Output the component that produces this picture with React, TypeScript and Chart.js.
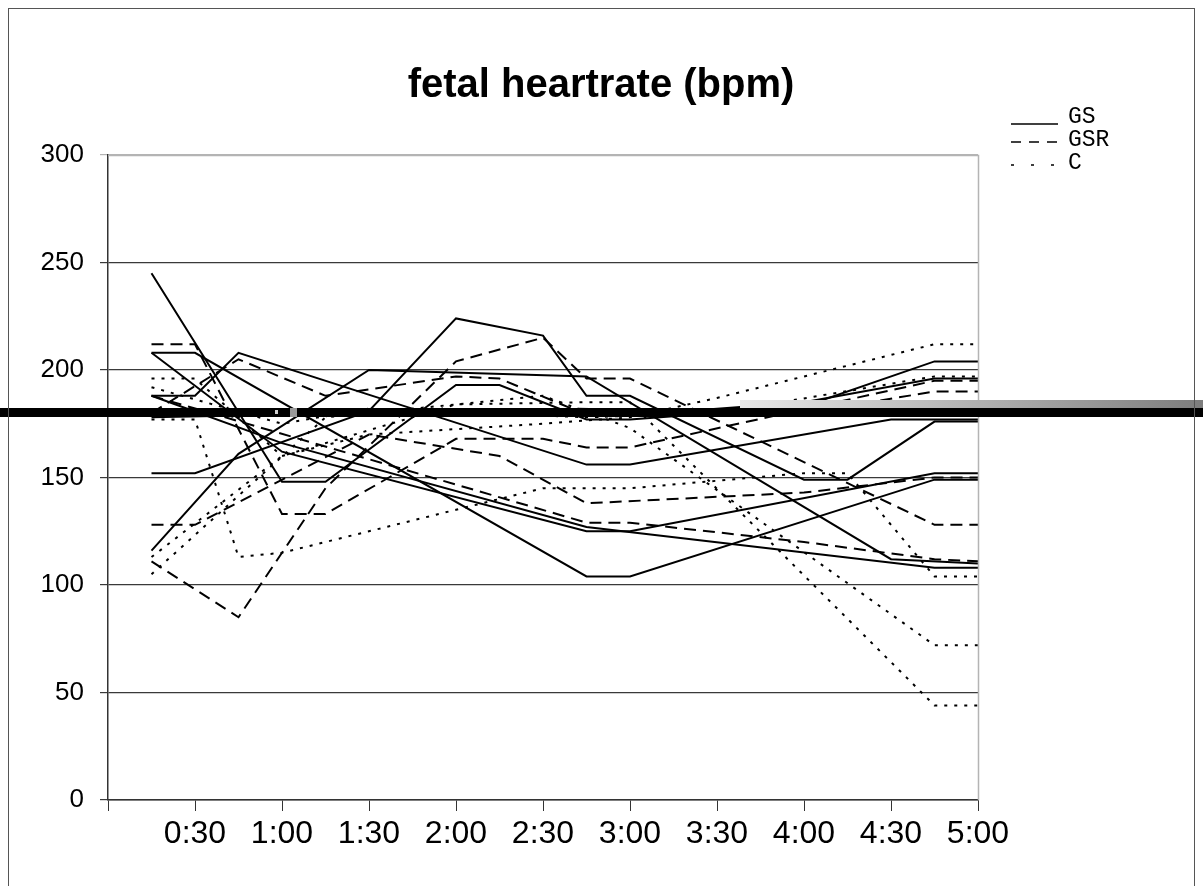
import React, { useEffect, useRef } from 'react';
import { Chart, registerables } from 'chart.js';

Chart.register(...registerables);

// time in minutes, value in bpm
const tickLabels = ['0:30', '1:00', '1:30', '2:00', '2:30', '3:00', '3:30', '4:00', '4:30', '5:00'];
const yTicks = [0, 50, 100, 150, 200, 250, 300];

// GS (solid)
const gs1 = [[15, 208], [30, 208], [165, 104], [180, 104], [285, 149], [300, 149]];
const gs2 = [[15, 152], [30, 152], [90, 181], [120, 224], [150, 216], [165, 188], [180, 188], [240, 149], [255, 149], [285, 176], [300, 176]];
const gs3 = [[15, 188], [30, 188], [45, 208], [165, 156], [180, 156], [270, 177], [300, 177]];
const gs4 = [[15, 116], [45, 161], [90, 200], [165, 197], [270, 112], [300, 110]];
const gs5 = [[15, 245], [60, 148], [75, 148], [120, 193], [135, 193], [165, 177], [180, 177], [240, 183], [285, 204], [300, 204]];
const gs6 = [[15, 208], [60, 162], [165, 125], [180, 125], [285, 152], [300, 152]];
const gs7 = [[15, 188], [60, 166], [165, 127], [285, 108], [300, 108]];
const gs8 = [[15, 178], [90, 180], [180, 179], [240, 185], [285, 196], [300, 196]];

// GSR (dashed)
const gsr1 = [[15, 212], [30, 212], [60, 133], [75, 133], [120, 168], [150, 168], [165, 164], [180, 164], [285, 195], [300, 195]];
const gsr2 = [[15, 111], [45, 85], [75, 145], [120, 204], [150, 215], [165, 196], [180, 196], [285, 128], [300, 128]];
const gsr3 = [[15, 128], [30, 128], [90, 170], [135, 160], [165, 138], [240, 143], [285, 150], [300, 150]];
const gsr4 = [[15, 188], [165, 129], [180, 129], [240, 120], [285, 112], [300, 111]];
const gsr5 = [[15, 180], [45, 205], [75, 188], [120, 197], [135, 196], [160, 182], [240, 180], [285, 190], [300, 190]];

// C (dotted)
const c1 = [[15, 196], [30, 196], [60, 160], [90, 170], [150, 175], [180, 178], [210, 187], [285, 212], [300, 212]];
const c2 = [[15, 177], [30, 177], [45, 113], [60, 115], [120, 135], [150, 145], [180, 145], [240, 152], [255, 152], [285, 104], [300, 104]];
const c3 = [[15, 105], [75, 178], [120, 184], [150, 188], [180, 173], [285, 72], [300, 72]];
const c4 = [[15, 113], [60, 160], [120, 184], [165, 185], [180, 185], [285, 44], [300, 44]];
const c5 = [[15, 192], [60, 175], [90, 182], [165, 178], [210, 180], [285, 197], [300, 197]];

const groupGS = [gs1, gs2, gs3, gs4, gs5, gs6, gs7, gs8];
const groupGSR = [gsr1, gsr2, gsr3, gsr4, gsr5];
const groupC = [c1, c2, c3, c4, c5];

const legendItems = [
  { label: 'GS', dash: [] as number[] },
  { label: 'GSR', dash: [10, 8] },
  { label: 'C', dash: [3, 17] },
];

const barValue = 180;
const DASH = [12, 7];
const DOT = [3, 7];

const FONT = "'Liberation Sans', Arial, sans-serif";

function makeSets(group: number[][][], label: string, dash: number[]) {
  return group.map((pts) => ({
    label,
    data: pts.map(([x, y]) => ({ x, y })),
    borderColor: '#000',
    backgroundColor: '#000',
    borderWidth: 2,
    borderDash: dash,
    pointRadius: 0,
    tension: 0,
    fill: false,
  }));
}

const overlay = {
  id: 'overlay',
  afterDatasetsDraw(chart: any) {
    const { ctx, chartArea, scales } = chart;
    const W = chart.width;
    const y = scales.y.getPixelForValue(barValue);
    ctx.save();
    // plot area top/right border
    ctx.strokeStyle = '#b4b4b4';
    ctx.lineWidth = 1.5;
    ctx.beginPath();
    ctx.moveTo(chartArea.left, chartArea.top + 0.5);
    ctx.lineTo(chartArea.right + 0.5, chartArea.top + 0.5);
    ctx.lineTo(chartArea.right + 0.5, chartArea.bottom);
    ctx.stroke();
    // thick artifact bar
    ctx.fillStyle = '#000';
    ctx.fillRect(0, y - 5, W, 9);
    const g = ctx.createLinearGradient(740, 0, W, 0);
    g.addColorStop(0, 'rgba(232,232,232,1)');
    g.addColorStop(1, 'rgba(125,125,125,1)');
    ctx.fillStyle = g;
    ctx.fillRect(740, y - 13, W - 740, 8);
    ctx.fillStyle = '#9a9a9a';
    ctx.fillRect(290, y - 5, 7, 9);
    ctx.fillStyle = '#cfcfcf';
    ctx.fillRect(275, y - 3, 3, 4);
    ctx.restore();
  },
  afterDraw(chart: any) {
    const { ctx } = chart;
    ctx.save();
    // outer frame
    ctx.strokeStyle = '#555';
    ctx.lineWidth = 1;
    ctx.strokeRect(8.5, 8.5, 1186, 900);
    // title
    ctx.fillStyle = '#000';
    ctx.font = `bold 40px ${FONT}`;
    ctx.textAlign = 'center';
    ctx.textBaseline = 'middle';
    ctx.fillText('fetal heartrate (bpm)', 601, 86);
    // legend
    ctx.font = "23px 'Liberation Mono', 'Courier New', monospace";
    ctx.textAlign = 'left';
    const ys = [117, 140, 163];
    legendItems.forEach((it, i) => {
      ctx.strokeStyle = '#000';
      ctx.lineWidth = 1.5;
      ctx.setLineDash(it.dash);
      ctx.beginPath();
      const ly = i === 0 ? ys[i] + 7 : ys[i] + 2;
      ctx.moveTo(1011, ly);
      ctx.lineTo(1058, ly);
      ctx.stroke();
      ctx.setLineDash([]);
      ctx.fillText(it.label, 1068, ys[i]);
    });
    ctx.restore();
  },
};

export default function App() {
  const ref = useRef<HTMLCanvasElement | null>(null);
  useEffect(() => {
    if (!ref.current) return;
    const chart = new Chart(ref.current, {
      type: 'line',
      data: {
        datasets: [
          ...makeSets(groupGS, 'GS', []),
          ...makeSets(groupGSR, 'GSR', DASH),
          ...makeSets(groupC, 'C', DOT),
        ],
      },
      options: {
        animation: false,
        responsive: false,
        maintainAspectRatio: false,
        layout: { padding: { left: 8, top: 155, right: 225, bottom: 0 } },
        plugins: { legend: { display: false }, tooltip: { enabled: false }, title: { display: false } },
        scales: {
          x: {
            type: 'linear',
            min: 0,
            max: 300,
            afterBuildTicks: (s: any) => {
              s.ticks = [0, ...tickLabels.map((_, i) => (i + 1) * 30)].map((v) => ({ value: v }));
            },
            afterFit: (s: any) => {
              s.height = 86;
            },
            grid: { drawOnChartArea: false, drawTicks: true, tickLength: 11, color: '#333', lineWidth: 1 },
            border: { display: true, color: '#333', width: 1.5 },
            ticks: {
              autoSkip: false,
              maxRotation: 0,
              padding: 4,
              color: '#000',
              font: { family: FONT, size: 32 },
              callback: (v: any) => (v === 0 ? '' : tickLabels[v / 30 - 1]),
            },
          },
          y: {
            min: 0,
            max: 300,
            afterBuildTicks: (s: any) => {
              s.ticks = yTicks.map((v) => ({ value: v }));
            },
            afterFit: (s: any) => {
              s.width = 100;
            },
            grid: {
              color: (c: any) => (c.tick && c.tick.value === 300 ? '#b4b4b4' : '#3a3a3a'),
              lineWidth: 1.2,
              tickLength: 8,
              drawTicks: true,
            },
            border: { display: true, color: '#333', width: 1.5 },
            ticks: { padding: 16, color: '#000', font: { family: FONT, size: 26 } },
          },
        },
      },
      plugins: [overlay],
    });
    return () => chart.destroy();
  }, []);
  return (
    <div style={{ position: 'absolute', left: 0, top: 0, width: 1203, height: 886, background: '#fff' }}>
      <canvas ref={ref} width={1203} height={886} style={{ display: 'block' }} />
    </div>
  );
}
